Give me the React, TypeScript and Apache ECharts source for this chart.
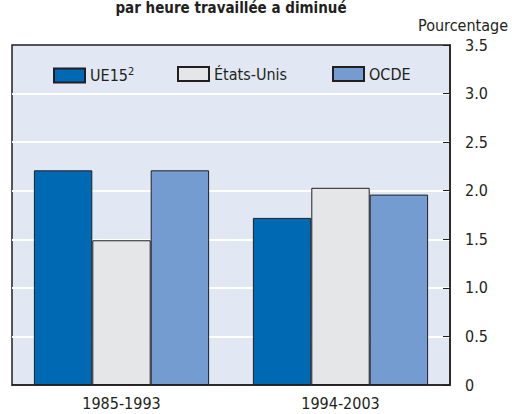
import React, { useEffect, useRef } from "react";
import * as echarts from "echarts";

const categories = ["1985-1993", "1994-2003"];
const seriesNames = ["UE15", "États-Unis", "OCDE"];
const ue15 = [2.21, 1.72];
const etatsUnis = [1.49, 2.03];
const ocde = [2.21, 1.96];
const colors = ["#0069b4", "#e5e6e8", "#759cd0"];
const legendLeft = [53, 177, 332];

const FONT = "'Liberation Sans Narrow', 'DejaVu Sans Condensed', 'Roboto', sans-serif";
const TEXT = "#231f20";

export default function App() {
  const ref = useRef<HTMLDivElement>(null);
  useEffect(() => {
    document.body.style.margin = "0";
    if (!ref.current) return;
    const chart = echarts.init(ref.current, undefined, { renderer: "svg" });
    const data = [ue15, etatsUnis, ocde];
    chart.setOption({
      animation: false,
      textStyle: { fontFamily: FONT },
      grid: {
        left: 12,
        right: 62,
        top: 45,
        bottom: 29,
        show: true,
        backgroundColor: "#e1e8f3",
        borderColor: "#231f20",
        borderWidth: 1.5,
      },
      legend: seriesNames.map((n, i) => ({
        data: [n],
        left: legendLeft[i],
        top: 66,
        padding: 0,
        itemWidth: 31,
        itemHeight: 14,
        icon: "rect",
        itemGap: 6,
        textStyle: {
          fontFamily: FONT,
          fontSize: 16,
          color: TEXT,
          rich: {
            n: { fontFamily: FONT, fontSize: 16, color: TEXT },
            s: { fontFamily: FONT, fontSize: 11, color: TEXT, padding: [0, 0, 8, 0] },
          },
        },
        formatter: (name: string) => (name === "UE15" ? "{n|UE15}{s|2}" : name),
      })),
      xAxis: {
        type: "category",
        data: categories,
        axisLine: { show: true, lineStyle: { color: "#231f20", width: 1.5 } },
        axisTick: { show: false },
        axisLabel: { fontSize: 16, color: TEXT, margin: 10, fontFamily: FONT },
      },
      yAxis: {
        type: "value",
        position: "right",
        min: 0,
        max: 3.5,
        interval: 0.5,
        axisLine: { show: true, lineStyle: { color: "#231f20", width: 1.5 } },
        axisTick: { show: true, inside: true, length: 7, lineStyle: { color: "#231f20", width: 1 } },
        axisLabel: {
          fontSize: 16,
          color: TEXT,
          margin: 15,
          fontFamily: FONT,
          formatter: (v: number) => (v === 0 ? "0" : v.toFixed(1)),
        },
        splitLine: { show: true, showMinLine: false, showMaxLine: false, lineStyle: { color: "#ffffff", width: 2 } },
      },
      series: seriesNames.map((n, i) => ({
        name: n,
        type: "bar",
        data: data[i],
        barCategoryGap: "20%",
        barGap: "0%",
        itemStyle: { color: colors[i], borderColor: "#231f20", borderWidth: 1 },
      })),
      graphic: [
        {
          type: "text",
          x: 231,
          y: 0,
          style: {
            text: "par heure travaillée a diminué",
            fontFamily: FONT,
            fontWeight: "bold",
            fontSize: 15,
            fill: TEXT,
            align: "center",
            verticalAlign: "top",
          },
        },
        {
          type: "text",
          x: 508,
          y: 25,
          style: {
            text: "Pourcentage",
            fontFamily: FONT,
            fontSize: 16,
            fill: TEXT,
            align: "right",
            verticalAlign: "middle",
          },
        },
      ],
    });
    return () => chart.dispose();
  }, []);
  return <div ref={ref} style={{ width: 512, height: 414 }} />;
}
